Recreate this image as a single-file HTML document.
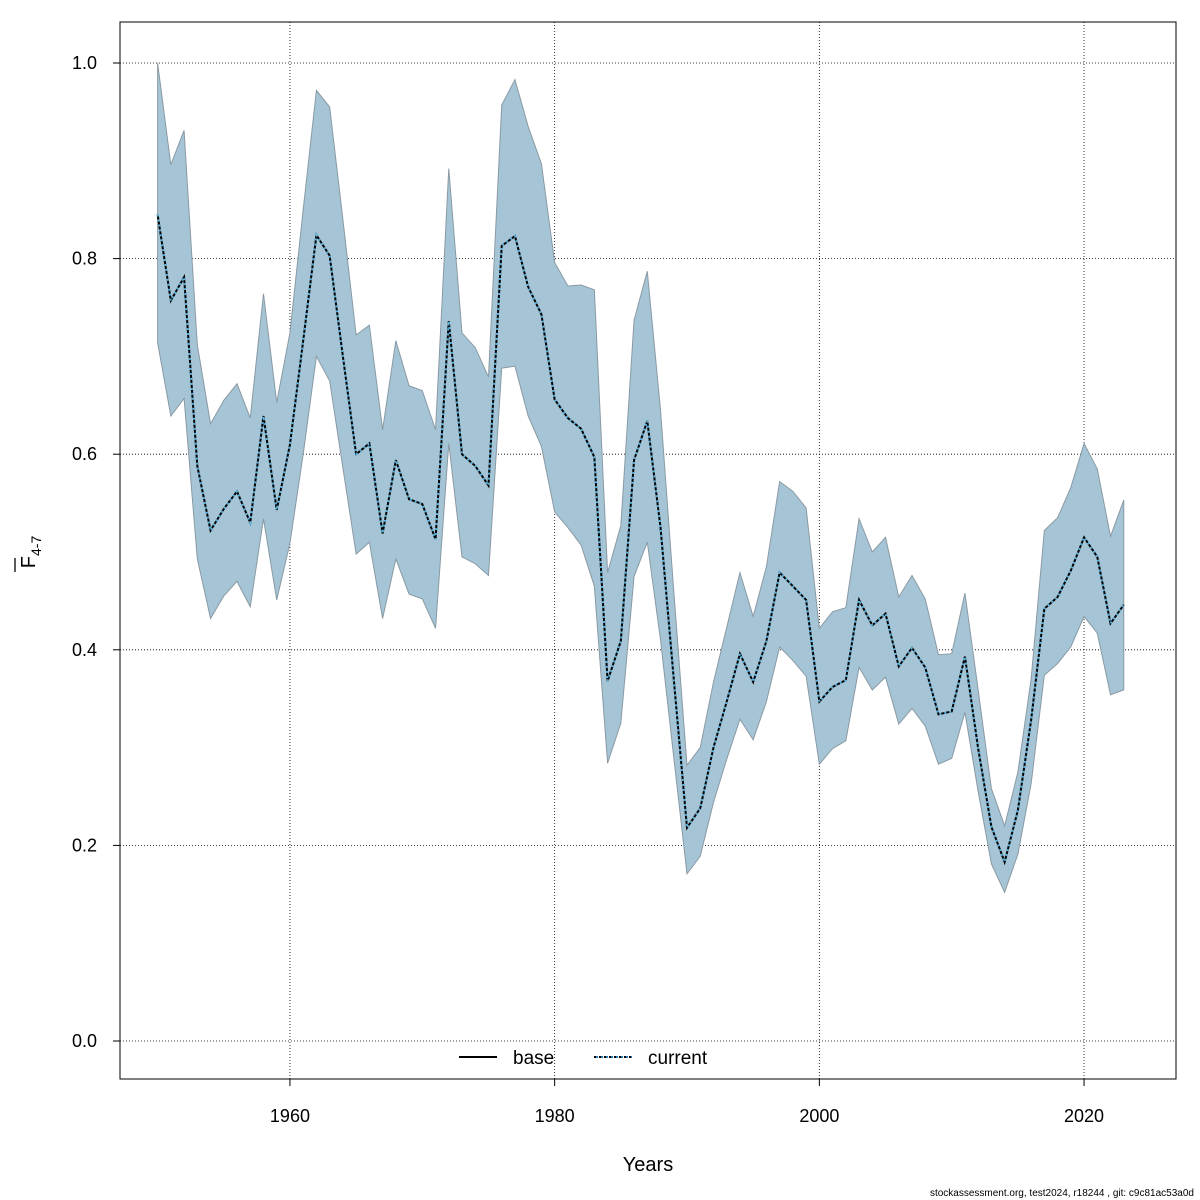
<!DOCTYPE html>
<html><head><meta charset="utf-8"><style>
html,body{margin:0;padding:0;background:#fff;}
svg{display:block;font-family:"Liberation Sans",Arial,sans-serif;}
</style></head><body>
<svg id="chart" width="1200" height="1200" viewBox="0 0 1200 1200">
<rect x="0" y="0" width="1200" height="1200" fill="#fff"/>
<g id="grid"></g>
<g id="band"></g>
<g id="lines"></g>
<rect x="120" y="22" width="1056" height="1057" fill="none" stroke="#000" stroke-width="1"/>
<g id="axes"></g>
<text x="648" y="1171" font-size="20" text-anchor="middle">Years</text>
<g transform="translate(35,552) rotate(-90)">
<text x="0" y="0" font-size="20" text-anchor="middle">F<tspan font-size="14" dy="6">4-7</tspan></text>
<line x1="-20" y1="-20" x2="-6" y2="-20" stroke="#000" stroke-width="1.3"/>
</g>
<g>
<g>
<line x1="459" y1="1057" x2="497" y2="1057" stroke="#000" stroke-width="2"/>
<text x="513" y="1064" font-size="19">base</text></g>
<g>
<line x1="594" y1="1057" x2="632" y2="1057" stroke="#000" stroke-width="2" stroke-dasharray="3,2"/>
<line x1="596" y1="1057" x2="632" y2="1057" stroke="#2a7fbf" stroke-width="2" stroke-dasharray="2,3"/>
<text x="648" y="1064" font-size="19">current</text></g>
</g>
<text x="1194" y="1196" font-size="10" text-anchor="end">stockassessment.org, test2024, r18244 , git: c9c81ac53a0d</text>
</svg>
<script>
const years = [];
for (let y = 1950; y <= 2023; y++) years.push(y);
const fbar = [0.845,0.757,0.781,0.588,0.522,0.544,0.562,0.530,0.639,0.543,0.610,0.716,0.824,0.803,0.700,0.600,0.611,0.519,0.594,0.554,0.549,0.513,0.736,0.600,0.588,0.568,0.813,0.823,0.771,0.743,0.656,0.637,0.626,0.597,0.368,0.409,0.594,0.634,0.525,0.370,0.218,0.238,0.300,0.347,0.396,0.367,0.409,0.479,0.465,0.451,0.347,0.362,0.369,0.451,0.425,0.437,0.383,0.402,0.382,0.334,0.337,0.393,0.299,0.219,0.183,0.236,0.328,0.442,0.454,0.481,0.515,0.495,0.427,0.446];
const upper = [1.000,0.896,0.931,0.712,0.631,0.655,0.672,0.637,0.764,0.653,0.724,0.850,0.972,0.955,0.840,0.722,0.732,0.625,0.716,0.670,0.665,0.625,0.892,0.724,0.709,0.679,0.957,0.983,0.935,0.897,0.796,0.772,0.773,0.768,0.479,0.527,0.737,0.787,0.645,0.460,0.282,0.300,0.367,0.423,0.479,0.434,0.485,0.572,0.562,0.545,0.422,0.439,0.443,0.534,0.500,0.515,0.454,0.476,0.452,0.395,0.396,0.458,0.359,0.258,0.220,0.275,0.370,0.522,0.535,0.566,0.611,0.585,0.516,0.553];
const lower = [0.714,0.639,0.657,0.493,0.432,0.455,0.470,0.444,0.534,0.451,0.509,0.600,0.700,0.675,0.586,0.498,0.510,0.432,0.493,0.457,0.452,0.422,0.611,0.495,0.488,0.476,0.688,0.690,0.639,0.608,0.541,0.525,0.507,0.465,0.284,0.325,0.475,0.510,0.410,0.290,0.171,0.189,0.244,0.288,0.329,0.308,0.347,0.403,0.389,0.373,0.283,0.299,0.307,0.382,0.359,0.372,0.324,0.340,0.322,0.283,0.289,0.336,0.255,0.181,0.152,0.191,0.263,0.374,0.386,0.403,0.434,0.417,0.354,0.359];
const xTicks = [1960,1980,2000,2020];
const yTicks = [0.0,0.2,0.4,0.6,0.8,1.0];

const NS = "http://www.w3.org/2000/svg";
const X = y => 157.6 + (y - 1950) * 13.235;
const Y = v => 1041 - v * 978;
function mk(tag, attrs, parent){const e=document.createElementNS(NS,tag);for(const k in attrs)e.setAttribute(k,attrs[k]);parent.appendChild(e);return e;}
const grid=document.getElementById('grid'), band=document.getElementById('band'), lines=document.getElementById('lines'), axes=document.getElementById('axes');

xTicks.forEach(t=>{
  const l=mk('line',{x1:X(t),x2:X(t),y1:22,y2:1079,stroke:'#000','stroke-width':0.8,'stroke-dasharray':'1,2'},grid);
  
  
  const tk=mk('line',{x1:X(t),x2:X(t),y1:1079,y2:1086,stroke:'#000','stroke-width':1},axes);
  
  
  const tx=mk('text',{x:X(t),y:1122,'font-size':18,'text-anchor':'middle'},axes);
  tx.textContent=t;
  
  
});
yTicks.forEach(t=>{
  const l=mk('line',{x1:120,x2:1176,y1:Y(t),y2:Y(t),stroke:'#000','stroke-width':0.8,'stroke-dasharray':'1,2'},grid);
  
  
  const tk=mk('line',{x1:113,x2:120,y1:Y(t),y2:Y(t),stroke:'#000','stroke-width':1},axes);
  
  
  const tx=mk('text',{x:97,y:Y(t)+6,'font-size':18,'text-anchor':'end'},axes);
  tx.textContent=t.toFixed(1);
  
  
});

let pts=years.map((y,i)=>X(y)+','+Y(upper[i]));
for(let i=years.length-1;i>=0;i--) pts.push(X(years[i])+','+Y(lower[i]));
const poly=mk('polygon',{points:pts.join(' '),fill:'#a5c4d5',stroke:'#8a9aa4','stroke-width':1},band);



const lp=years.map((y,i)=>X(y)+','+Y(fbar[i])).join(' ');
const base=mk('polyline',{points:lp,fill:'none',stroke:'#000','stroke-width':2},lines);


const cur=mk('polyline',{points:lp,fill:'none',stroke:'#5ab4e0','stroke-width':2,'stroke-dasharray':'2,3'},lines);


</script>
</body></html>
